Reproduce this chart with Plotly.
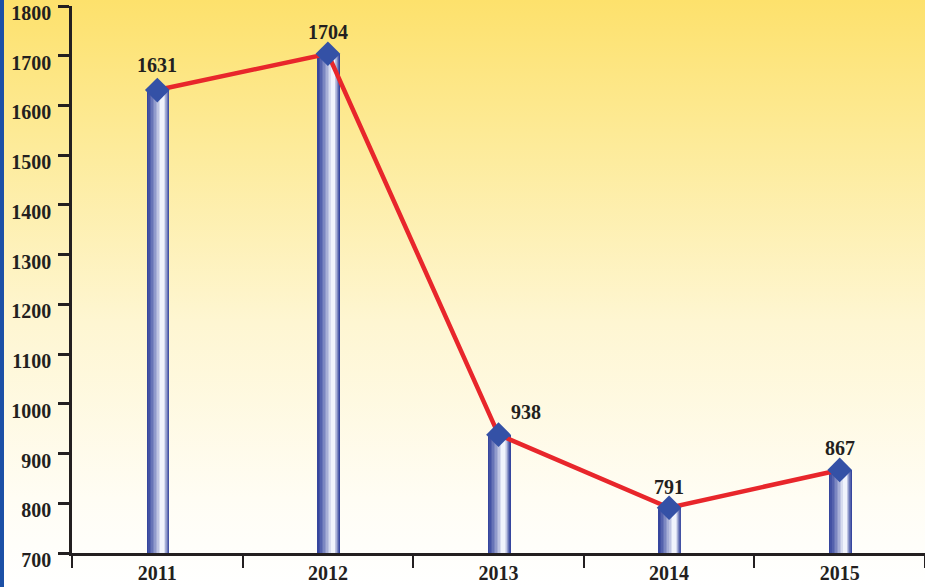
import base64
import plotly.graph_objects as go

years = ["2011", "2012", "2013", "2014", "2015"]
values = [1631, 1704, 938, 791, 867]
y_ticks = [700, 800, 900, 1000, 1100, 1200, 1300, 1400, 1500, 1600, 1700, 1800]

W, H = 925, 587
ML, MR, MT, MB = 72, 0, 6, 34
PW, PH = W - ML - MR, H - MT - MB

FONT = "Liberation Serif, Times New Roman, serif"

svg = f'''<svg xmlns="http://www.w3.org/2000/svg" width="{W}" height="{H}" viewBox="0 0 {W} {H}" preserveAspectRatio="none">
<defs><linearGradient id="g" x1="0" y1="0" x2="0" y2="1">
<stop offset="0" stop-color="#fde16c"/>
<stop offset="0.25" stop-color="#fdeb9a"/>
<stop offset="0.55" stop-color="#fef6d2"/>
<stop offset="0.85" stop-color="#fffdf4"/>
<stop offset="1" stop-color="#ffffff"/>
</linearGradient></defs>
<rect x="0" y="0" width="{W}" height="{H}" fill="url(#g)"/>
<rect x="0" y="0" width="4" height="{H}" fill="#1c50a6"/>
</svg>'''
src = "data:image/svg+xml;base64," + base64.b64encode(svg.encode()).decode()

fig = go.Figure()

# cylinder-like bars via overlaid layers
full_w = 0.134
left0 = -full_w / 2 + 0.004
hl = 0.034
n = 10
dark = (54, 70, 158)
light = (240, 243, 252)
for i in range(n):
    t = i / n * 0.92
    left = left0 + t * (hl - left0)
    right = left0 + full_w - t * (left0 + full_w - hl)
    f = (i / (n - 1)) ** 1.2
    c = tuple(int(dark[k] + (light[k] - dark[k]) * f) for k in range(3))
    fig.add_trace(go.Bar(
        x=years, y=[v - 700 for v in values], base=700,
        width=right - left, offset=left,
        marker=dict(color=f"rgb{c}", line=dict(width=0)),
        hoverinfo="skip", showlegend=False,
    ))

fig.add_trace(go.Scatter(
    x=years, y=values, mode="lines+markers",
    line=dict(color="#e8262b", width=4.5),
    marker=dict(symbol="diamond", size=19, color="#3451a6", line=dict(width=0)),
    showlegend=False,
))

shifts = [(0, 25), (0, 22), (27, 23), (0, 21), (0, 22)]
for i, (v, (dx, dy)) in enumerate(zip(values, shifts)):
    fig.add_annotation(x=i, y=v, text=f"<b>{v}</b>", showarrow=False,
                       xshift=dx, yshift=dy,
                       font=dict(family=FONT, size=20, color="#231f20"))

fig.update_layout(
    width=W, height=H,
    margin=dict(l=ML, r=MR, t=MT, b=MB, pad=0, autoexpand=False),
    paper_bgcolor="white", plot_bgcolor="rgba(0,0,0,0)",
    barmode="overlay", bargap=0,
    images=[dict(source=src, xref="paper", yref="paper",
                 x=-ML / PW, y=1 + MT / PH, sizex=W / PW, sizey=H / PH,
                 xanchor="left", yanchor="top", sizing="stretch", layer="below")],
    xaxis=dict(type="category", range=[-0.5, 4.5], showgrid=False, automargin=False,
               showline=True, linecolor="#231f20", linewidth=2.5,
               ticks="outside", tickson="boundaries", ticklen=12, tickwidth=2,
               tickcolor="#231f20", ticklabeloverflow="allow",
               tickvals=years, ticktext=[f"<b>{y}</b>" for y in years],
               tickfont=dict(family=FONT, size=20, color="#231f20")),
    yaxis=dict(range=[700, 1800], tickvals=y_ticks, ticktext=[f"<b>{t}</b>" for t in y_ticks],
               showgrid=False, zeroline=False, ticklabeloverflow="allow", automargin=False,
               ticklabelstandoff=3, ticklabelshift=7,
               showline=True, linecolor="#231f20", linewidth=2.5,
               ticks="outside", ticklen=11, tickwidth=2.5, tickcolor="#231f20",
               tickfont=dict(family=FONT, size=20, color="#231f20")),
)

fig.write_html("out.html", config={"displayModeBar": False},
               post_script="document.body.style.margin='0';document.body.style.overflow='hidden';")
